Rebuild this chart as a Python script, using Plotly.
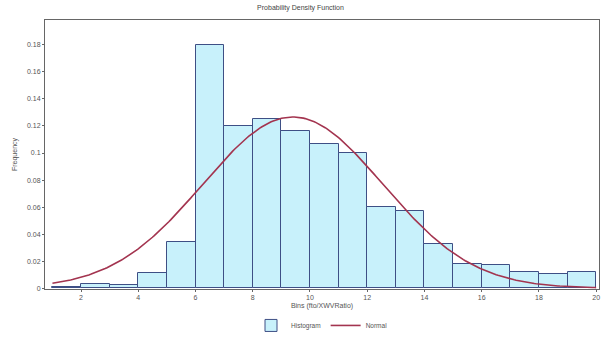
import numpy as np
import plotly.graph_objects as go

bin_left = [1, 2, 3, 4, 5, 6, 7, 8, 9, 10, 11, 12, 13, 14, 15, 16, 17, 18, 19]
freq = [0.001, 0.003, 0.002, 0.011, 0.034, 0.180, 0.120, 0.125, 0.116, 0.107,
        0.100, 0.060, 0.057, 0.033, 0.018, 0.017, 0.012, 0.0105, 0.012]
normal_mean = 9.4
normal_sd = 3.15
x_ticks = [2, 4, 6, 8, 10, 12, 14, 16, 18, 20]
y_ticks = [0, 0.02, 0.04, 0.06, 0.08, 0.1, 0.12, 0.14, 0.16, 0.18]
y_tick_text = ["0", "0.02", "0.04", "0.06", "0.08", "0.1", "0.12", "0.14", "0.16", "0.18"]

centers = [b + 0.5 for b in bin_left]
xc = np.linspace(1, 20, 300)
yc = np.exp(-(xc - normal_mean) ** 2 / (2 * normal_sd ** 2)) / (normal_sd * np.sqrt(2 * np.pi))

fig = go.Figure()
fig.add_trace(go.Bar(
    x=centers, y=freq, width=1, name="Histogram",
    marker=dict(color="#c8f1fb", line=dict(color="#3e4f85", width=1)),
))
fig.add_trace(go.Scatter(
    x=xc, y=yc, mode="lines", name="Normal",
    line=dict(color="#a3344f", width=1.6),
))

font = dict(family="Liberation Sans, Arial, sans-serif", size=7, color="#555")
fig.update_layout(
    width=601, height=339,
    margin=dict(l=45, r=2, t=20, b=50, autoexpand=False),
    plot_bgcolor="white", paper_bgcolor="white",
    font=font,
    bargap=0,
    title=dict(text="Probability Density Function", x=0.5, xanchor="center",
               y=0.985, yanchor="top", font=dict(size=7, color="#444")),
    showlegend=True,
    legend=dict(orientation="h", x=0.5, xanchor="center", yref="container",
                y=0.04, yanchor="middle", font=dict(size=6.5, color="#555"),
                itemwidth=30, tracegroupgap=0),
    xaxis=dict(range=[0.74, 20.1], tickvals=x_ticks, showgrid=False, zeroline=False,
               showline=True, linecolor="#666", linewidth=1, mirror=True,
               ticks="outside", ticklen=2, tickcolor="#666",
               title=dict(text="Bins (fto/XWVRatio)", standoff=2, font=dict(size=7, color="#555"))),
    yaxis=dict(range=[-0.0006, 0.1984], tickvals=y_ticks, ticktext=y_tick_text,
               showgrid=False, zeroline=False,
               showline=True, linecolor="#666", linewidth=1, mirror=True,
               ticks="outside", ticklen=2, tickcolor="#666",
               title=dict(text="Frequency", standoff=8, font=dict(size=7, color="#555"))),
)
fig.write_html("out.html")
